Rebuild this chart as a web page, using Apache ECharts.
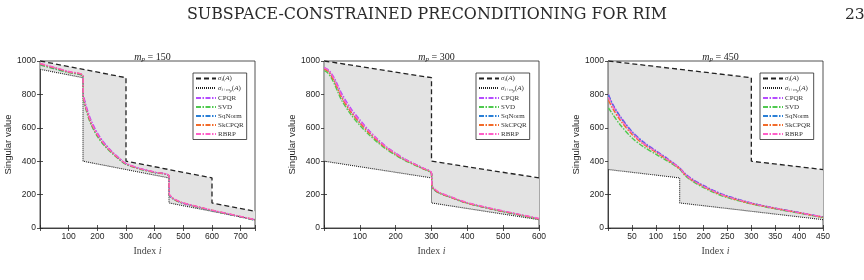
<!DOCTYPE html>
<html>
<head>
<meta charset="utf-8">
<script src="https://cdn.jsdelivr.net/npm/echarts@6/dist/echarts.min.js"></script>
<style>
  html, body { margin: 0; padding: 0; background: #fff; }
  #chart { width: 864px; height: 280px; }
</style>
</head>
<body>
<div id="chart"></div>
<script>
// singular value bounds (vertices of the piecewise lines)
const upperX150 = [1, 300, 300, 600, 600, 750];
const upperY150 = [1000, 900, 400, 300, 150, 100];
const lowerX150 = [1, 150, 150, 450, 450, 750];
const lowerY150 = [950, 900, 400, 300, 150, 50];

const upperX300 = [1, 300, 300, 600];
const upperY300 = [1000, 900, 400, 300];
const lowerX300 = [1, 300, 300, 600];
const lowerY300 = [400, 300, 150, 50];

const upperX450 = [1, 300, 300, 450];
const upperY450 = [1000, 900, 400, 350];
const lowerX450 = [1, 150, 150, 450];
const lowerY450 = [350, 300, 150, 50];

// preconditioned singular values, m_p = 150
const idx150 = [1, 50, 100, 150, 151, 155, 160, 170, 180, 200, 225, 250, 275, 300, 350, 400, 450, 451, 460, 475, 500, 550, 600, 650, 700, 750];
const cpqr150 = [983, 960, 935, 910, 795, 770, 738, 683, 638, 570, 508, 460, 420, 386, 355, 334, 310, 200, 182, 166, 148, 126, 105, 86, 67, 48];
const svd150 = [975, 953, 930, 906, 780, 745, 712, 655, 612, 548, 492, 449, 412, 381, 352, 332, 309, 198, 180, 164, 147, 125, 104, 85, 66, 47];
const sqnorm150 = [980, 957, 933, 909, 788, 758, 724, 668, 624, 558, 500, 454, 416, 384, 354, 333, 310, 200, 181, 165, 148, 126, 105, 86, 67, 48];
const skcpqr150 = [982, 959, 934, 910, 786, 756, 722, 666, 622, 557, 499, 454, 416, 384, 354, 333, 311, 201, 182, 166, 149, 127, 106, 87, 68, 49];
const rbrp150 = [985, 962, 937, 912, 790, 762, 728, 672, 628, 562, 503, 457, 418, 386, 356, 335, 312, 205, 185, 168, 150, 128, 107, 88, 69, 50];

// m_p = 300
const idx300 = [1, 10, 20, 30, 40, 50, 75, 100, 125, 150, 175, 200, 225, 250, 275, 300, 301, 305, 320, 350, 400, 450, 500, 550, 600];
const cpqr300 = [960, 950, 928, 893, 848, 803, 716, 648, 586, 532, 485, 448, 414, 387, 360, 328, 258, 238, 213, 188, 150, 124, 100, 78, 55];
const svd300 = [942, 930, 900, 858, 808, 762, 680, 615, 560, 512, 470, 436, 405, 380, 355, 325, 252, 234, 210, 186, 148, 122, 98, 76, 53];
const sqnorm300 = [955, 944, 917, 878, 830, 784, 698, 633, 575, 524, 479, 443, 410, 384, 358, 327, 255, 236, 212, 187, 149, 123, 99, 77, 54];
const skcpqr300 = [952, 941, 913, 873, 824, 778, 694, 629, 571, 521, 477, 441, 409, 383, 357, 327, 256, 237, 212, 187, 149, 123, 99, 77, 54];
const rbrp300 = [958, 948, 922, 884, 836, 790, 705, 640, 580, 528, 482, 446, 412, 386, 360, 330, 262, 242, 216, 190, 152, 126, 102, 80, 57];

// m_p = 450
const idx450 = [1, 10, 25, 50, 75, 100, 125, 150, 160, 175, 200, 225, 250, 300, 350, 400, 450];
const cpqr450 = [800, 742, 672, 580, 514, 464, 415, 360, 330, 296, 255, 220, 192, 150, 119, 93, 66];
const svd450 = [720, 680, 620, 540, 485, 442, 400, 352, 318, 283, 242, 208, 182, 144, 115, 89, 62];
const sqnorm450 = [795, 738, 668, 576, 510, 461, 412, 358, 327, 292, 252, 217, 190, 149, 118, 92, 65];
const skcpqr450 = [765, 715, 648, 562, 500, 454, 407, 356, 323, 288, 248, 213, 186, 146, 117, 91, 64];
const rbrp450 = [785, 730, 660, 570, 505, 458, 410, 358, 325, 290, 250, 215, 188, 148, 118, 92, 65];

const panels = [
  { mp: 150, max: 750, interval: 100, left: 40, idx: idx150,
    up: [upperX150, upperY150], low: [lowerX150, lowerY150],
    curves: [cpqr150, svd150, sqnorm150, skcpqr150, rbrp150], legendLeft: 193 },
  { mp: 300, max: 600, interval: 100, left: 324, idx: idx300,
    up: [upperX300, upperY300], low: [lowerX300, lowerY300],
    curves: [cpqr300, svd300, sqnorm300, skcpqr300, rbrp300], legendLeft: 476 },
  { mp: 450, max: 450, interval: 50, left: 608, idx: idx450,
    up: [upperX450, upperY450], low: [lowerX450, lowerY450],
    curves: [cpqr450, svd450, sqnorm450, skcpqr450, rbrp450], legendLeft: 760 },
];

const methods = ['CPQR', 'SVD', 'SqNorm', 'SkCPQR', 'RBRP'];
const colors = ['#b54cff', '#4fc94f', '#2a7fd6', '#f26b2a', '#ff5fc8'];
const SIG = 'sig', SIGM = 'sigm';

const AX = '#262626';
const SERIF = '"Liberation Serif", "DejaVu Serif", serif';
const SANS = '"Liberation Sans", Arial, sans-serif';

const zip = (xs, ys) => xs.map((x, i) => [x, ys[i]]);

const chart = echarts.init(document.getElementById('chart'));

const grid = [], xAxis = [], yAxis = [], series = [], title = [], legend = [];

title.push({
  text: 'SUBSPACE-CONSTRAINED PRECONDITIONING FOR RIM',
  left: 422, top: 2, textAlign: 'center',
  textStyle: { fontFamily: '"DejaVu Serif", serif', fontSize: 15.9, fontWeight: 'normal', color: '#2a2a2a' }
});
title.push({
  text: '23', left: 840, top: 2,
  textStyle: { fontFamily: '"DejaVu Serif", serif', fontSize: 15.5, fontWeight: 'normal', color: '#2a2a2a' }
});

const tickStyle = { inside: true, length: 3, lineStyle: { color: AX, width: 0.8 } };

panels.forEach((p, k) => {
  grid.push({ left: p.left, top: 61, width: 215, height: 167, show: true,
    borderColor: AX, borderWidth: 0.8, backgroundColor: 'transparent' });

  title.push({
    text: '{i|m}{s|p}{n| = ' + p.mp + '}',
    left: p.left + 107.5, top: 47, textAlign: 'center',
    textStyle: { fontWeight: 'normal', rich: {
      i: { fontFamily: SERIF, fontStyle: 'italic', fontWeight: 'normal', fontSize: 10, color: '#222' },
      s: { fontFamily: SERIF, fontStyle: 'italic', fontWeight: 'normal', fontSize: 7, color: '#222', verticalAlign: 'bottom', padding: [4, 0, 0, 0] },
      n: { fontFamily: SERIF, fontWeight: 'normal', fontSize: 10, color: '#222' }
    } }
  });

  xAxis.push({
    type: 'value', gridIndex: k, min: 0, max: p.max, interval: p.interval,
    name: '{a|Index }{b|i}', nameLocation: 'middle', nameGap: 15,
    nameTextStyle: { rich: {
      a: { fontFamily: SERIF, fontSize: 10, color: '#444' },
      b: { fontFamily: SERIF, fontStyle: 'italic', fontSize: 10, color: '#444' }
    } },
    axisLine: { show: true, lineStyle: { color: AX, width: 0.8 } },
    axisTick: tickStyle,
    axisLabel: { fontFamily: SANS, fontSize: 8.5, color: AX, margin: 4,
      formatter: v => (v === 0 || v % p.interval !== 0 ? '' : String(v)) },
    splitLine: { show: false }
  });
  yAxis.push({
    type: 'value', gridIndex: k, min: 0, max: 1000, interval: 200,
    name: 'Singular value', nameLocation: 'middle', nameGap: 21,
    nameTextStyle: { fontFamily: SANS, fontSize: 9.5, color: AX },
    axisLine: { show: true, lineStyle: { color: AX, width: 0.8 } },
    axisTick: tickStyle,
    axisLabel: { fontFamily: SANS, fontSize: 8.5, color: AX, margin: 4, formatter: v => String(v) },
    splitLine: { show: false }
  });

  // shaded band between the two bounds
  series.push({
    type: 'custom', xAxisIndex: k, yAxisIndex: k, z: 1, silent: true,
    data: [[0, 0]],
    renderItem: (params, api) => {
      const pts = zip(p.up[0], p.up[1]).map(d => api.coord(d))
        .concat(zip(p.low[0], p.low[1]).reverse().map(d => api.coord(d)));
      return { type: 'polygon', shape: { points: pts }, style: { fill: '#e3e3e3', stroke: null } };
    }
  });
  series.push({
    name: SIG, type: 'line', xAxisIndex: k, yAxisIndex: k, symbol: 'none', z: 3,
    data: zip(p.up[0], p.up[1]),
    itemStyle: { color: '#222' },
    lineStyle: { color: '#222', width: 1.3, type: [5, 3] }
  });
  series.push({
    name: SIGM, type: 'line', xAxisIndex: k, yAxisIndex: k, symbol: 'none', z: 3,
    data: zip(p.low[0], p.low[1]),
    itemStyle: { color: '#222' },
    lineStyle: { color: '#222', width: 1.1, type: [1, 1] }
  });
  methods.forEach((m, j) => {
    series.push({
      name: m, type: 'line', xAxisIndex: k, yAxisIndex: k, symbol: 'none', z: 4 + j,
      smooth: 0.3,
      data: zip(p.idx, p.curves[j]),
      itemStyle: { color: colors[j] },
      lineStyle: { color: colors[j], width: 1.4, type: [5, 1.5, 1.5, 1.5] }
    });
  });

  legend.push({
    left: p.legendLeft, top: 73, orient: 'vertical',
    data: [SIG, SIGM].concat(methods),
    backgroundColor: '#fff', borderColor: AX, borderWidth: 0.8,
    padding: [2, 3, 2, 2], itemGap: 2, itemWidth: 20, itemHeight: 6,
    selectedMode: false,
    itemStyle: { opacity: 0 },
    formatter: name => {
      if (name === SIG) return '{it|σ}{sb|i}{t|(}{it|A}{t|)}';
      if (name === SIGM) return '{it|σ}{sb|i+m}{ss|p}{t|(}{it|A}{t|)}';
      return '{t|' + name + '}';
    },
    textStyle: { padding: [0, 0, 0, -3], rich: {
      t: { fontFamily: SERIF, fontSize: 7, color: '#333' },
      it: { fontFamily: SERIF, fontStyle: 'italic', fontSize: 7, color: '#333' },
      sb: { fontFamily: SERIF, fontStyle: 'italic', fontSize: 5, color: '#333', verticalAlign: 'bottom', padding: [3, 0, 0, 0] },
      ss: { fontFamily: SERIF, fontStyle: 'italic', fontSize: 4, color: '#333', verticalAlign: 'bottom', padding: [5, 0, 0, 0] }
    } }
  });
});

// mirrored tick marks on the top and right edges of each box
panels.forEach((p, k) => {
  xAxis.push({ type: 'value', gridIndex: k, position: 'top', min: 0, max: p.max, interval: p.interval,
    axisLine: { show: false }, axisTick: tickStyle, axisLabel: { show: false }, splitLine: { show: false } });
  yAxis.push({ type: 'value', gridIndex: k, position: 'right', min: 0, max: 1000, interval: 200,
    axisLine: { show: false }, axisTick: tickStyle, axisLabel: { show: false }, splitLine: { show: false } });
});

chart.setOption({
  animation: false,
  backgroundColor: '#fff',
  title, grid, xAxis, yAxis, legend, series
});
</script>
</body>
</html>
